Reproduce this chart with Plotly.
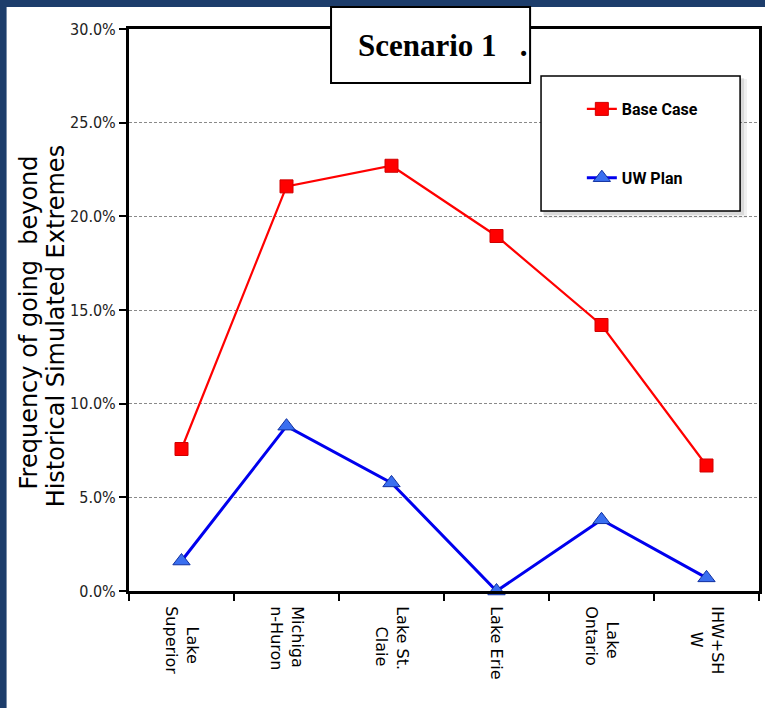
import plotly.graph_objects as go

# Lakes / outflow locations along the system
categories = ["Lake Superior", "Michigan-Huron", "Lake St. Claie",
              "Lake Erie", "Lake Ontario", "IHW+SHW"]
# wrapped tick text, short lines padded so each label is centred
NB = "\u00a0"
tick_text = [NB * 4 + "Lake<br>Superior", "Michiga<br>n-Huron",
             "Lake St.<br>" + NB * 4 + "Claie", "Lake Erie",
             NB * 3 + "Lake<br>Ontario", "IHW+SH<br>" + NB * 5 + "W"]

# Frequency of exceeding the historical simulated extremes (fractions)
base_case = [0.0758, 0.216, 0.227, 0.1895, 0.142, 0.067]
uw_plan = [0.016, 0.088, 0.0577, 0.0, 0.038, 0.007]

y_ticks = [0.0, 0.05, 0.10, 0.15, 0.20, 0.25, 0.30]

W, H = 765, 708
L, R, T, B = 129, 3, 29, 117
PW, PH = W - L - R, H - T - B


def px_x(p):
    return (p - L) / PW


def px_y(p):
    return (H - B - p) / PH


fig = go.Figure()

fig.add_trace(go.Scatter(
    x=categories, y=base_case, name="Base Case", mode="lines+markers",
    line=dict(color="#ff0000", width=2.2),
    marker=dict(symbol="square", size=13, color="#ff0000",
                line=dict(color="#d00000", width=1)),
    cliponaxis=False, legendgroup="a",
))
fig.add_trace(go.Scatter(
    x=categories, y=uw_plan, name="UW Plan", mode="lines+markers",
    line=dict(color="#0000ee", width=3),
    marker=dict(symbol="triangle-up", size=15, color="#3a6ff0",
                line=dict(color="#1030a0", width=1)),
    cliponaxis=False, legendgroup="b",
))

shapes = [
    # white page inside the dark frame
    dict(type="rect", xref="paper", yref="paper", layer="below",
         x0=px_x(6), x1=px_x(W + 10), y0=px_y(H + 10), y1=px_y(7),
         fillcolor="white", line=dict(width=0)),
    # title box
    dict(type="rect", xref="paper", yref="paper", layer="above",
         x0=px_x(332), x1=px_x(532), y0=px_y(83), y1=px_y(7),
         fillcolor="white", line=dict(color="black", width=2)),
    # soft legend shadow
    dict(type="rect", xref="paper", yref="paper", layer="above",
         x0=px_x(546), x1=px_x(750), y0=px_y(218), y1=px_y(79),
         fillcolor="rgba(0,0,0,0.06)", line=dict(width=0)),
    dict(type="rect", xref="paper", yref="paper", layer="above",
         x0=px_x(545), x1=px_x(747), y0=px_y(215), y1=px_y(78),
         fillcolor="rgba(0,0,0,0.09)", line=dict(width=0)),
    # legend box
    dict(type="rect", xref="paper", yref="paper", layer="above",
         x0=px_x(543), x1=px_x(743), y0=px_y(211), y1=px_y(76),
         fillcolor="white", line=dict(color="black", width=1.5)),
]

title_font = dict(family="DejaVu Sans", size=24, color="black")
annotations = [
    dict(text="Scenario 1" + NB * 3 + ".", xref="paper", yref="paper",
         x=px_x(444), y=px_y(45), xanchor="center", yanchor="middle",
         showarrow=False,
         font=dict(family="Liberation Serif", size=31, color="black",
                   weight="bold")),
    # y-axis title, two closely spaced lines
    dict(text="Frequency of going" + NB * 2 + "beyond",
         xref="paper", yref="paper", x=px_x(29), y=px_y(322),
         xanchor="center", yanchor="middle", textangle=-90, showarrow=False,
         font=title_font),
    dict(text="Historical Simulated Extremes",
         xref="paper", yref="paper", x=px_x(56), y=px_y(326),
         xanchor="center", yanchor="middle", textangle=-90, showarrow=False,
         font=title_font),
]

fig.update_layout(
    width=W, height=H,
    margin=dict(l=L, r=R, t=T, b=B, pad=0),
    paper_bgcolor="#1d3d6b",
    plot_bgcolor="white",
    shapes=shapes,
    annotations=annotations,
    showlegend=True,
    legend=dict(x=px_x(584), y=px_y(92), xanchor="left", yanchor="top",
                bgcolor="rgba(0,0,0,0)", borderwidth=0,
                tracegroupgap=45, traceorder="grouped",
                font=dict(family="Roboto", size=16,
                          color="black", weight="bold")),
    xaxis=dict(
        type="category", range=[-0.5, 5.5],
        tickvals=categories, ticktext=tick_text,
        showline=True, linecolor="black", linewidth=3, mirror=True,
        ticks="outside", tickson="boundaries", ticklen=7, tickwidth=2,
        tickcolor="black", tickangle=90, showgrid=False,
        ticklabelstandoff=9,
        tickfont=dict(family="DejaVu Sans", size=16, color="black"),
    ),
    yaxis=dict(
        range=[0, 0.30], tickvals=y_ticks, tickformat=".1%",
        showline=True, linecolor="black", linewidth=3, mirror=True,
        ticks="outside", ticklen=7, tickwidth=2, tickcolor="black",
        showgrid=True, gridcolor="#8a8a8a", gridwidth=1, griddash="3px,2px",
        zeroline=False,
        tickfont=dict(family="DejaVu Sans Condensed", size=16, color="#222222"),
    ),
)

fig.write_html("out.html")
